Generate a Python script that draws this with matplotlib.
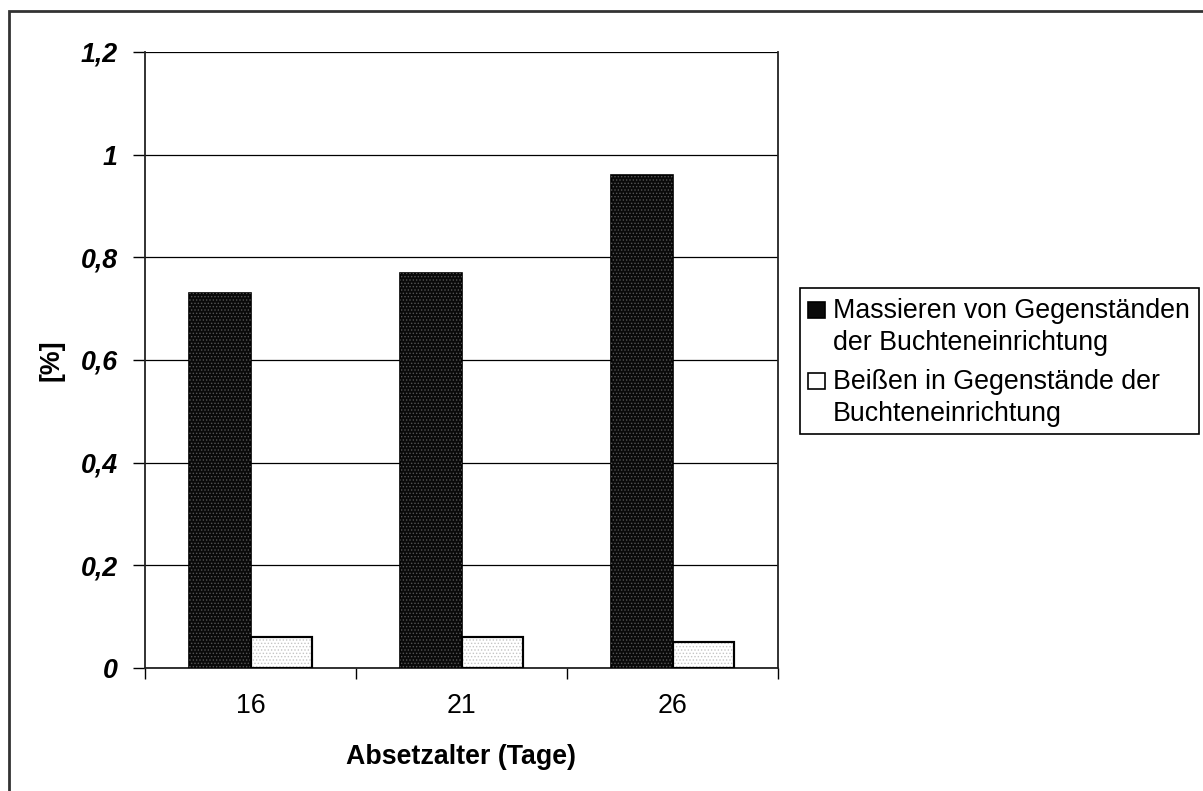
import numpy as np
import matplotlib
matplotlib.use("Agg")
import matplotlib.pyplot as plt
from matplotlib.patches import Rectangle

plt.rcParams['font.family'] = ['Liberation Sans', 'DejaVu Sans']
plt.rcParams['hatch.linewidth'] = 0.6

# weaning age groups and share of observations
ages = ['16', '21', '26']
massieren = [0.73, 0.77, 0.96]
beissen = [0.06, 0.06, 0.05]
yticks = [0, 0.2, 0.4, 0.6, 0.8, 1, 1.2]
ylabels = ['0', '0,2', '0,4', '0,6', '0,8', '1', '1,2']
leg_labels = [['Massieren von Gegenständen', 'der Buchteneinrichtung'],
              ['Beißen in Gegenstände der', 'Buchteneinrichtung']]

FS = 19.3
W, H = 1203, 791
fig = plt.figure(figsize=(W / 100, H / 100), dpi=100)

def fx(px):
    return px / W

def fy(py):
    return 1 - py / H

# outer chart frame
fig.patches.append(Rectangle((fx(8.5), fy(805)), fx(1220) - fx(8.5), fy(11) - fy(805),
                             transform=fig.transFigure, fill=False,
                             edgecolor='#333333', lw=2, zorder=0))

ax = fig.add_axes([fx(145), fy(668), fx(778) - fx(145), fy(52) - fy(668)])
x = np.arange(len(ages))
w = 0.29

# bars: solid fill first, dotted hatch drawn on top in grey
ax.bar(x - w / 2, massieren, w, color='#0a0a0a', edgecolor='black', lw=1.2, zorder=3)
ax.bar(x - w / 2, massieren, w, color='none', edgecolor='#555555', hatch='.....', lw=0, zorder=4)
ax.bar(x + w / 2, beissen, w, color='white', edgecolor='black', lw=1.5, zorder=3)
ax.bar(x + w / 2, beissen, w, color='none', edgecolor='#c4c4c4', hatch='.....', lw=0, zorder=4)
ax.bar(x + w / 2, beissen, w, color='none', edgecolor='black', lw=1.5, zorder=5)

ax.set_xlim(-0.5, 2.5)
ax.set_ylim(0, 1.2)
ax.set_yticks(yticks)
ax.set_yticklabels(ylabels, fontsize=FS, fontweight='bold', fontstyle='italic')
ax.yaxis.grid(True, color='black', lw=0.9, zorder=0)
ax.set_axisbelow(True)

ax.set_xticks([-0.5, 0.5, 1.5, 2.5])
ax.set_xticklabels([])
ax.set_xticks(x, minor=True)
ax.set_xticklabels(ages, minor=True, fontsize=FS)
ax.tick_params(axis='x', which='major', direction='out', length=8, width=1)
ax.tick_params(axis='x', which='minor', length=0, pad=18)
ax.tick_params(axis='y', direction='out', length=9, width=1, pad=10.5)

ax.spines['top'].set_visible(False)
for s in ['left', 'right', 'bottom']:
    ax.spines[s].set_linewidth(1.3)
    ax.spines[s].set_color('#222222')

fig.text(fx(52), fy(360), '[%]', rotation=90, fontsize=FS, fontweight='bold',
         ha='center', va='center')
fig.text(fx(461), fy(757), 'Absetzalter (Tage)', fontsize=FS, fontweight='bold',
         ha='center', va='center')

# legend box
fig.patches.append(Rectangle((fx(800), fy(434)), fx(1199) - fx(800), fy(288) - fy(434),
                             transform=fig.transFigure, facecolor='white',
                             edgecolor='black', lw=1.2))
sq = [(302, '#0a0a0a'), (373, 'white')]
for (top, fc), lines in zip(sq, leg_labels):
    fig.patches.append(Rectangle((fx(808), fy(top + 16)), fx(825) - fx(808), fy(top) - fy(top + 16),
                                 transform=fig.transFigure, facecolor=fc,
                                 edgecolor='black', lw=1.2))
    for i, line in enumerate(lines):
        fig.text(fx(833), fy(top + 16 + 32 * i), line, fontsize=FS,
                 ha='left', va='baseline')

fig.savefig('out.png', dpi=100)
